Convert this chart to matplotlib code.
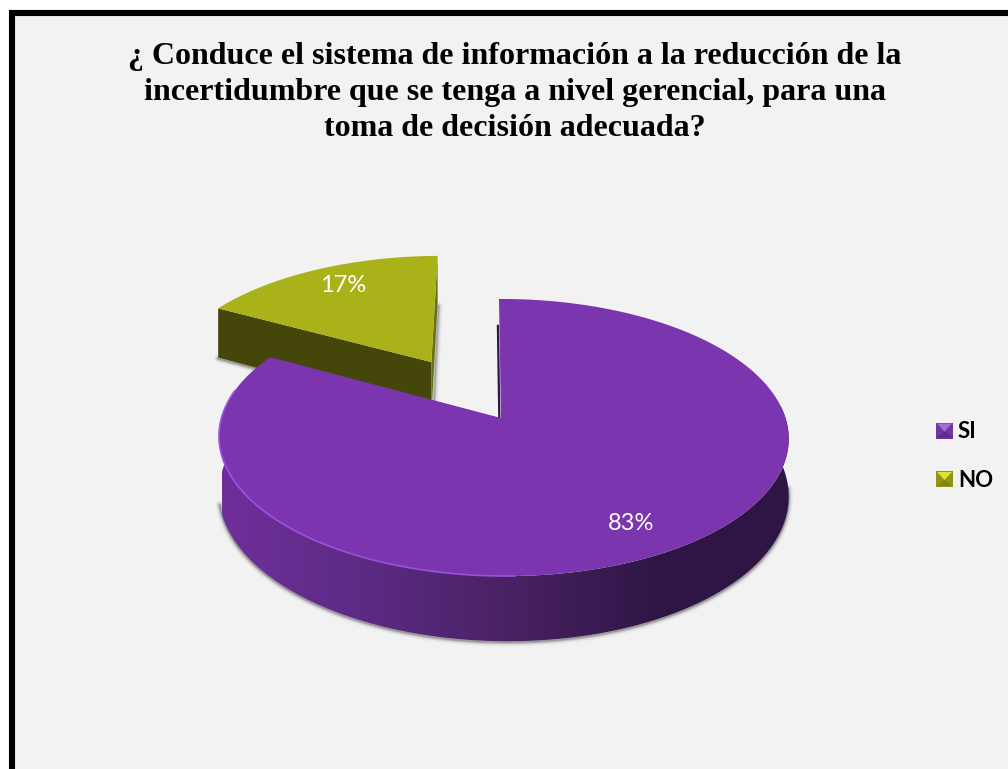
# -*- coding: utf-8 -*-
import numpy as np
import matplotlib
matplotlib.use("Agg")
import matplotlib.pyplot as plt
from matplotlib.colors import LinearSegmentedColormap
from matplotlib.patches import Polygon, Rectangle

title = ("¿ Conduce el sistema de información a la reducción de la\n"
         "incertidumbre que se tenga a nivel gerencial, para una\n"
         "toma de decisión adecuada?")
categories = ["SI", "NO"]
percent = [83, 17]
top_colors = ["#7B35AE", "#A9B219"]

# camera used for the tilted disc (pixel space)
X0, Y0 = 501.0, 418.0
A, B, C, K = 282.0, 135.8, 56.0, 0.1408
K_SIDE = -0.0088
SKEW = -0.0081
EXPLODE = 0.509


def project(u, v, z=0.0):
    w = 1 + K * v + K_SIDE * u
    return np.column_stack([X0 + A * (u + SKEW * v) / w, Y0 - (B * v - C * z) / w])


def rim(start, stop, z=0.0, shift=(0.0, 0.0), n=200):
    # angles run clockwise from the back of the disc, in degrees
    a = np.radians(np.linspace(start, stop, n))
    return project(np.sin(a) + shift[0], np.cos(a) + shift[1], z)


def apex(z=0.0, shift=(0.0, 0.0)):
    return project(np.array([shift[0]]), np.array([shift[1]]), z)


def soft_line(xs, ys, zorder, strength=1.0):
    # stacked strokes give a blurry drop shadow
    for lw, alpha in [(6, 0.05), (4, 0.09), (2.5, 0.16), (1.2, 0.25)]:
        ax.plot(xs, ys, color="#303030", lw=lw, alpha=alpha * strength,
                solid_capstyle="round", zorder=zorder)


fig = plt.figure(figsize=(10.08, 7.69), dpi=100, facecolor="white")
ax = fig.add_axes([0, 0, 1, 1])
ax.set_xlim(0, 1008)
ax.set_ylim(769, 0)
ax.axis("off")

ax.add_patch(Rectangle((12, 13), 1040, 800, facecolor="#F2F2F2",
                       edgecolor="black", linewidth=4.4, zorder=0))

si_sweep = percent[0] / sum(percent) * 360
no_start = si_sweep
mid = np.radians((no_start + 360) / 2)
shift = (EXPLODE * np.sin(mid), EXPLODE * np.cos(mid))

# NO slice, pulled away from the centre
no_top = np.vstack([apex(0, shift), rim(no_start, 360, 0, shift)])
left_rim = rim(no_start, no_start, 0, shift, n=1)
left_low = rim(no_start, no_start, 1, shift, n=1)
right_rim = rim(360, 360, 0, shift, n=1)
right_low = rim(360, 360, 1, shift, n=1)
soft_line([left_low[0, 0], apex(1, shift)[0, 0]],
          [left_low[0, 1] + 1, apex(1, shift)[0, 1] + 1], 1)
soft_line([right_rim[0, 0] + 1, apex(1, shift)[0, 0] + 2],
          [right_rim[0, 1] + 50, apex(1, shift)[0, 1]], 1, 0.8)
ax.add_patch(Polygon(np.vstack([left_rim, apex(0, shift), apex(1, shift), left_low]),
                     closed=True, facecolor="#45470A", edgecolor="none", zorder=2))
ax.add_patch(Polygon(np.vstack([apex(0, shift), right_rim, right_low, apex(1, shift)]),
                     closed=True, facecolor="#6B6F10", edgecolor="none", zorder=2))
ax.add_patch(Polygon(no_top, closed=True, facecolor=top_colors[1],
                     edgecolor="none", zorder=3))

# soft shadow under the main slice
low_edge = rim(95, 258, 1)
soft_line(low_edge[:, 0], low_edge[:, 1] + 1, 4)

# curved wall of the SI slice with its left to right shading
wall = Polygon(np.vstack([rim(85, 275, 0), rim(85, 275, 1)[::-1]]), closed=True,
               facecolor="none", edgecolor="none", zorder=5)
ax.add_patch(wall)
wall_cmap = LinearSegmentedColormap.from_list(
    "wall", [(0, "#6F2F9A"), (0.25, "#5C2A84"), (0.5, "#492263"),
             (0.78, "#2E1545"), (1, "#2E1545")])
shade = ax.imshow(np.linspace(0, 1, 256)[None, :], cmap=wall_cmap, aspect="auto",
                  extent=(222, 790, 700, 400), zorder=5, interpolation="bilinear")
shade.set_clip_path(wall)
ax.set_xlim(0, 1008)
ax.set_ylim(769, 0)

# thin dark inner face along the start of the SI slice
inner = project(np.array([-0.006, -0.006]), np.array([0.75, 0.0]))
ax.plot(inner[:, 0], inner[:, 1], color="#2E1545", lw=1.6, zorder=6)

si_top = np.vstack([apex(), rim(0, si_sweep)])
ax.add_patch(Polygon(si_top, closed=True, facecolor=top_colors[0],
                     edgecolor="none", zorder=7))

# lit edge on the front left of the top face
glow = rim(178, 282)
ax.plot(glow[:, 0], glow[:, 1], color="#9A52DE", lw=1.3, alpha=0.9, zorder=8)

ax.text(515, 92.5, title, family="Liberation Serif", weight="bold", fontsize=23,
        ha="center", va="center", linespacing=1.32, color="black", zorder=10)

ax.text(631, 523, f"{percent[0]}%", family="Lato", fontsize=17, color="white",
        ha="center", va="center", zorder=10)
ax.text(343, 286, f"{percent[1]}%", family="Lato", fontsize=17, color="#FFFFFF",
        ha="center", va="center", zorder=10)

# legend swatches with a small bevel
legend_y = [430.5, 479]
bevel = [("#6F35A0", "#A56CE0", "#5A2A85"), ("#8F9614", "#E0E030", "#7F8510")]
for name, y, (base, light, dark) in zip(categories, legend_y, bevel):
    x0, x1, y0, y1 = 936, 953, y - 8, y + 8
    ax.add_patch(Rectangle((x0, y0), x1 - x0, y1 - y0, facecolor=base,
                           edgecolor="none", zorder=10))
    xm = (x0 + x1) / 2
    ym = (y0 + y1) / 2
    ax.add_patch(Polygon([(x0 + 1, y0 + 1), (x1 - 1, y0 + 1), (xm, ym + 1)], closed=True,
                         facecolor=light, edgecolor="none", zorder=11))
    ax.add_patch(Polygon([(x0 + 1, y1 - 1), (x1 - 1, y1 - 1), (xm, ym + 1)], closed=True,
                         facecolor=dark, edgecolor="none", zorder=11))
    ax.text(958, y + 1.5, name, family="Lato", weight="bold", fontsize=16,
            ha="left", va="center", color="black", zorder=11)

plt.savefig("out.png", dpi=100)
plt.close(fig)
